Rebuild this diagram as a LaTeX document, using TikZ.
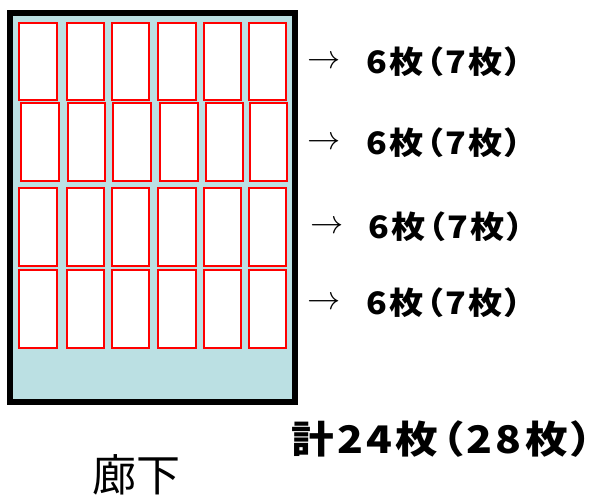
\documentclass[tikz,border=0pt]{standalone}
\usepackage{fontspec}
\newfontfamily\jpfont{Noto Sans CJK JP}
\usepackage{tikz}
\definecolor{floorblue}{RGB}{187,224,227}

\begin{document}
\begin{tikzpicture}[x=1pt,y=-1pt,
  card/.style={draw=red,fill=white,line width=2pt},
  count/.style={anchor=west,inner sep=0pt,font=\jpfont\bfseries\addfontfeature{RawFeature=+palt,FakeStretch=1.1,LetterSpace=8}\fontsize{31}{36}\selectfont},
  pointer/.style={anchor=west,inner sep=0pt,scale=1.6,font=\fontsize{20}{24}\selectfont}]
\useasboundingbox (0,0) rectangle (601,496);
\draw[line width=6pt,fill=floorblue] (10,13) rectangle (295,402);

% row 1
\draw[card] (19,23) rectangle (57,100);
\draw[card] (67,23) rectangle (104,100);
\draw[card] (112,23) rectangle (149,100);
\draw[card] (158,23) rectangle (196,100);
\draw[card] (204,23) rectangle (241,100);
\draw[card] (249,23) rectangle (286,100);

% row 2
\draw[card] (21,103) rectangle (59,181);
\draw[card] (68,103) rectangle (105,181);
\draw[card] (113,103) rectangle (151,181);
\draw[card] (160,103) rectangle (198,181);
\draw[card] (206,103) rectangle (243,181);
\draw[card] (250,103) rectangle (287,181);

% row 3
\draw[card] (19,188) rectangle (57,266);
\draw[card] (67,188) rectangle (104,266);
\draw[card] (112,188) rectangle (149,266);
\draw[card] (158,188) rectangle (196,266);
\draw[card] (204,188) rectangle (241,266);
\draw[card] (249,188) rectangle (286,266);

% row 4
\draw[card] (19,270) rectangle (57,348);
\draw[card] (67,270) rectangle (104,348);
\draw[card] (112,270) rectangle (149,348);
\draw[card] (158,270) rectangle (196,348);
\draw[card] (204,270) rectangle (241,348);
\draw[card] (249,270) rectangle (286,348);

\node[pointer] (arrowA) at (307,62) {$\rightarrow$};
\node[count] (rowA) at (366,62) {6枚（7枚）};
\node[pointer] (arrowB) at (307,143) {$\rightarrow$};
\node[count] (rowB) at (366,143) {6枚（7枚）};
\node[pointer] (arrowC) at (310,227) {$\rightarrow$};
\node[count] (rowC) at (368,227) {6枚（7枚）};
\node[pointer] (arrowD) at (307,303) {$\rightarrow$};
\node[count] (rowD) at (366,303) {6枚（7枚）};

\node[anchor=west,inner sep=0pt,font=\jpfont\bfseries\addfontfeature{RawFeature=+palt,FakeStretch=1.12,LetterSpace=9}\fontsize{38}{44}\selectfont] (total) at (291,439) {計24枚（28枚）\hspace{-8pt}};
\node[anchor=west,inner sep=0pt,font=\jpfont\fontsize{44}{48}\selectfont] (hall) at (92,475) {廊下};
\end{tikzpicture}
\end{document}
